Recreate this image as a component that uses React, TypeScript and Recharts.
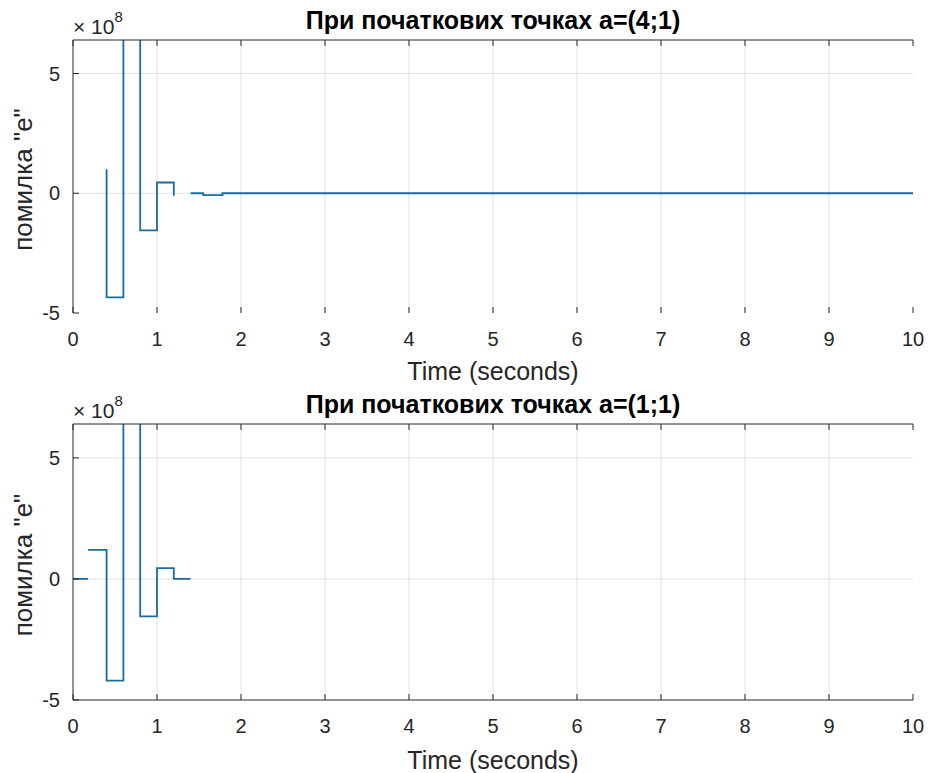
import { Label, Line, LineChart, ReferenceLine, XAxis, YAxis } from "recharts";

// time axis, seconds
const TIME_TICKS = [0, 1, 2, 3, 4, 5, 6, 7, 8, 9, 10];
const GRID_TIME = [1, 2, 3, 4, 5, 6, 7, 8, 9];
// error axis, x 10^8
const ERR_TICKS = [-5, 0, 5];
const GRID_ERR = [0, 5];

// a=(4;1) — values in 1e8, null = gap in the trace
const RUN1_TIME = [0.4, 0.4, 0.6, 0.8, 1.0, 1.2, 1.3, 1.4, 1.55, 1.78, 10];
const RUN1_ERR = [1.0, -4.35, 12, -1.55, 0.45, -0.1, null, 0, -0.08, 0, 0];

// a=(1;1)
const RUN2_TIME = [0, 0.18, 0.18, 0.18, 0.4, 0.6, 0.8, 1.0, 1.2, 1.4];
const RUN2_ERR = [0, 0, null, 1.2, -4.2, 12, -1.55, 0.45, 0, 0];

const FONT = '"Liberation Sans", Arial, sans-serif';
const INK = "#262626";
const GRID = "#e2e2e2";
const LINE_BLUE = "#1a6b9f";

const tickStyle = { fontFamily: FONT, fontSize: 20, fill: INK };

type PanelProps = {
  title: string;
  time: number[];
  err: (number | null)[];
  height: number;
  top: number;
  bottomLine: boolean;
  labelOffset: number;
};

function Panel({ title, time, err, height, top, bottomLine, labelOffset }: PanelProps) {
  const rows = time.map((t, i) => ({ t, e: err[i] }));
  return (
    <LineChart
      width={932}
      height={height}
      data={rows}
      margin={{ top, right: 18, bottom: 0, left: 0 }}
    >
      <XAxis
        dataKey="t"
        type="number"
        domain={[0, 10]}
        ticks={TIME_TICKS}
        height={73}
        tickSize={-6}
        tickMargin={25}
        tick={tickStyle}
        axisLine={bottomLine ? { stroke: INK } : false}
        tickLine={{ stroke: INK }}
      >
        <Label
          value="Time (seconds)"
          position="insideBottom"
          offset={labelOffset}
          style={{ fontFamily: FONT, fontSize: 25, fill: INK }}
        />
      </XAxis>
      <XAxis
        xAxisId="top"
        orientation="top"
        dataKey="t"
        type="number"
        domain={[0, 10]}
        ticks={TIME_TICKS}
        height={1}
        tickSize={-6}
        tickFormatter={() => ""}
        axisLine={{ stroke: INK }}
        tickLine={{ stroke: INK }}
      >
        <Label
          value={title}
          position="top"
          offset={10}
          style={{ fontFamily: FONT, fontSize: 25, fontWeight: 700, fill: "#000" }}
        />
      </XAxis>
      <YAxis
        type="number"
        domain={[-5, 6.4]}
        allowDataOverflow
        ticks={ERR_TICKS}
        width={73}
        tickSize={-6}
        tickMargin={19}
        tick={tickStyle}
        axisLine={{ stroke: INK }}
        tickLine={{ stroke: INK }}
      >
        <Label
          content={(p: any) => {
            const vb = p.viewBox;
            const cy = vb.y + vb.height / 2 + 3;
            return (
              <g>
                <text
                  transform={`translate(23, ${cy}) rotate(-90)`}
                  textAnchor="middle"
                  dominantBaseline="central"
                  style={{ fontFamily: FONT, fontSize: 26, fill: INK }}
                >
                  помилка "e"
                </text>
                <text
                  x={vb.x + vb.width}
                  y={vb.y - 6}
                  style={{ fontFamily: FONT, fontSize: 21, fill: INK }}
                >
                  × 10
                  <tspan dy={-12} fontSize={15}>
                    8
                  </tspan>
                </text>
              </g>
            );
          }}
        />
      </YAxis>
      <YAxis
        yAxisId="r"
        orientation="right"
        type="number"
        domain={[-5, 6.4]}
        ticks={ERR_TICKS}
        width={1}
        tickSize={-6}
        tickFormatter={() => ""}
        axisLine={{ stroke: "none" }}
        tickLine={{ stroke: INK }}
      />
      {GRID_TIME.map((v) => (
        <ReferenceLine key={`x${v}`} x={v} stroke={GRID} strokeWidth={1} />
      ))}
      {GRID_ERR.map((v) => (
        <ReferenceLine key={`y${v}`} y={v} stroke={GRID} strokeWidth={1} />
      ))}
      <Line
        dataKey="e"
        type="stepAfter"
        stroke={LINE_BLUE}
        strokeWidth={1.8}
        dot={false}
        activeDot={false}
        isAnimationActive={false}
      />
    </LineChart>
  );
}

export default function App() {
  return (
    <div
      style={{
        position: "absolute",
        left: 0,
        top: 0,
        width: 932,
        height: 773,
        background: "#fff",
      }}
    >
      <Panel
        title="При початкових точках a=(4;1)"
        time={RUN1_TIME}
        err={RUN1_ERR}
        height={386}
        top={39}
        bottomLine={false}
        labelOffset={6}
      />
      <Panel
        title="При початкових точках a=(1;1)"
        time={RUN2_TIME}
        err={RUN2_ERR}
        height={387}
        top={37}
        bottomLine={true}
        labelOffset={4}
      />
    </div>
  );
}
